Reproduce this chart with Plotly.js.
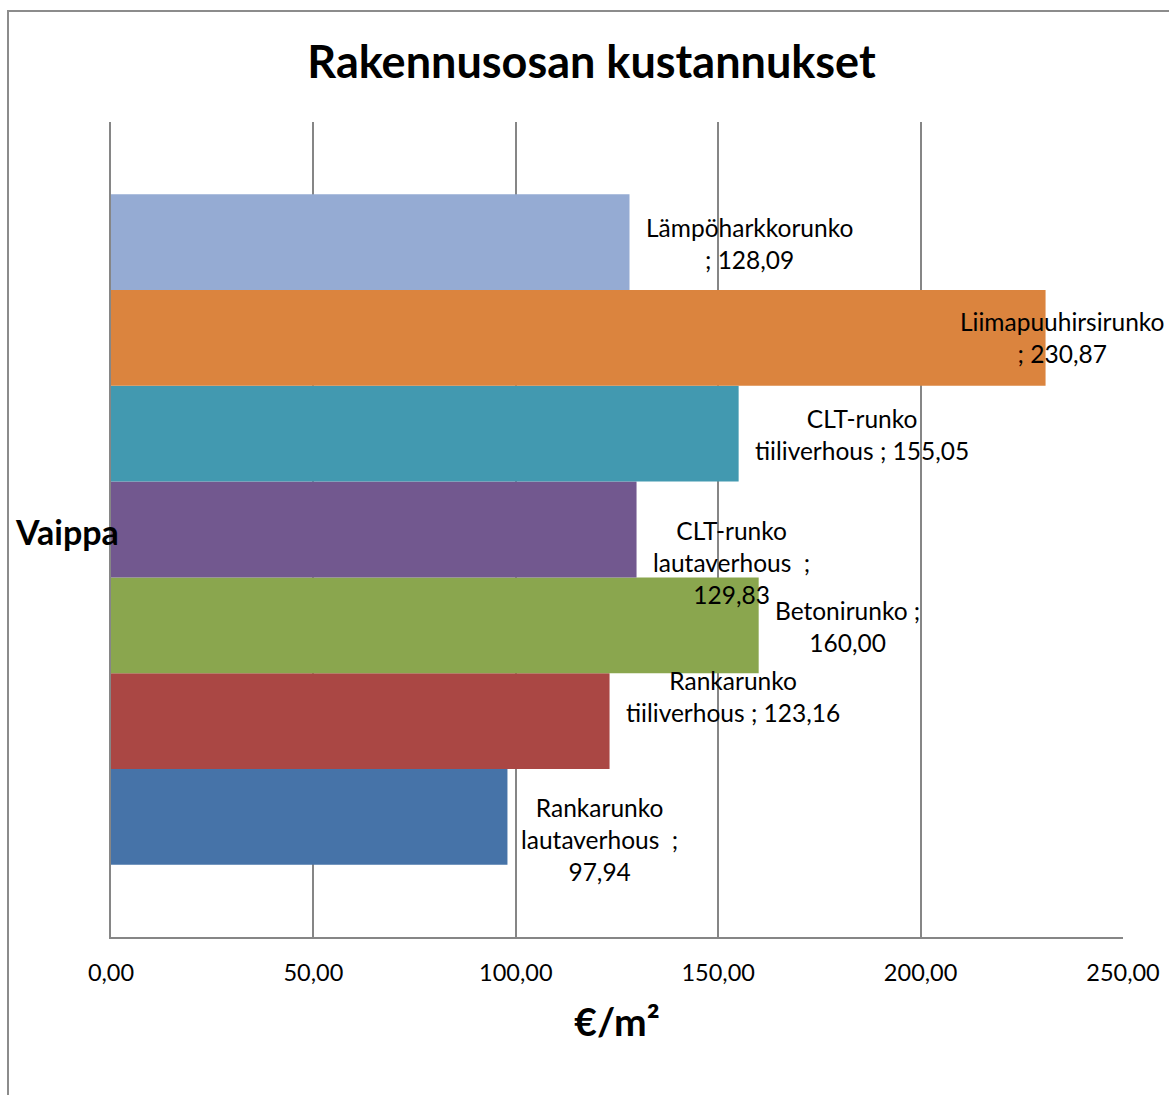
<!DOCTYPE html>
<html>
<head>
<meta charset="utf-8">
<script src="https://cdn.plot.ly/plotly-3.0.1.min.js"></script>
<style>
  html, body { margin: 0; padding: 0; background: #ffffff; }
  #wrap { position: relative; width: 1169px; height: 1095px; overflow: hidden; }
  #chart { width: 1169px; height: 1095px; }
  #frame { position: absolute; left: 7px; top: 10px; width: 1200px; height: 1200px;
           border-left: 2px solid #8c8c8c; border-top: 2px solid #8c8c8c; pointer-events: none; }
</style>
</head>
<body>
<div id="wrap">
  <div id="chart"></div>
  <div id="frame"></div>
</div>
<script>
// ---- data (bottom bar first) ----
const category = ['Vaippa'];
const seriesNames = [
  'Rankarunko lautaverhous',
  'Rankarunko tiiliverhous',
  'Betonirunko',
  'CLT-runko lautaverhous',
  'CLT-runko tiiliverhous',
  'Liimapuuhirsirunko',
  'Lämpöharkkorunko'
];
const seriesValues = [97.94, 123.16, 160.00, 129.83, 155.05, 230.87, 128.09];
// wrapped label text, as shown in the chart (value appended)
const labelPrefix = [
  'Rankarunko<br>lautaverhous  ;<br>',
  'Rankarunko<br>tiiliverhous ; ',
  'Betonirunko ;<br>',
  'CLT-runko<br>lautaverhous  ;<br>',
  'CLT-runko<br>tiiliverhous ; ',
  'Liimapuuhirsirunko<br>; ',
  'Lämpöharkkorunko<br>; '
];
const xTickVals = [0, 50, 100, 150, 200, 250];
const xTickText = ['0,00', '50,00', '100,00', '150,00', '200,00', '250,00'];

// ---- styles ----
const colors = ['#4673A8', '#AA4744', '#8AA64E', '#72588F', '#4299B0', '#DB843E', '#95ABD3'];
const labelXShift = [12, 14, 14, 14, 14, -88, 14];
const labelYShift = [-23, 25, -1, -33, -1, 0, -1];

const FONT = 'Lato, "Open Sans", sans-serif';
const bargap = 0.177;
const n = seriesValues.length;
const bw = (1 - bargap) / n;

const fmt = v => v.toFixed(2).replace('.', ',');

const traces = seriesValues.map((v, i) => ({
  type: 'bar',
  orientation: 'h',
  name: seriesNames[i],
  y: category,
  x: [v],
  marker: { color: colors[i], line: { width: 0 } },
  hoverinfo: 'name+x'
}));

const annotations = seriesValues.map((v, i) => ({
  xref: 'x', yref: 'y',
  x: v,
  y: -(1 - bargap) / 2 + (i + 0.5) * bw,
  text: labelPrefix[i] + fmt(v),
  showarrow: false,
  xanchor: 'left', yanchor: 'middle',
  align: 'center',
  xshift: labelXShift[i],
  yshift: labelYShift[i],
  font: { family: FONT, size: 24.5, color: '#000000' }
}));

annotations.push({
  xref: 'paper', yref: 'y',
  x: -0.097, y: 0,
  xanchor: 'left', yanchor: 'middle',
  text: '<b>' + category[0] + '</b>',
  showarrow: false,
  yshift: -2,
  font: { family: FONT, size: 34, color: '#000000' }
});

const layout = {
  width: 1169, height: 1095,
  margin: { l: 111, r: 46, t: 122, b: 158, pad: 0 },
  paper_bgcolor: '#ffffff', plot_bgcolor: '#ffffff',
  showlegend: false,
  barmode: 'group',
  bargap: bargap,
  bargroupgap: 0,
  separators: ', ',
  title: {
    text: '<b>Rakennusosan kustannukset</b>',
    xref: 'container', x: 0.506, xanchor: 'center',
    yref: 'container', y: 1 - 62 / 1095, yanchor: 'middle',
    font: { family: FONT, size: 45, color: '#000000' }
  },
  xaxis: {
    range: [0, 250],
    tickvals: xTickVals, ticktext: xTickText,
    showgrid: true, gridcolor: '#868686', gridwidth: 2,
    zeroline: false,
    showline: true, linecolor: '#868686', linewidth: 2,
    ticks: '', ticklabelstandoff: 14,
    tickfont: { family: FONT, size: 23.5, color: '#000000' },
    title: {
      text: '<b>€/m²</b>',
      standoff: 23,
      font: { family: FONT, size: 39, color: '#000000' }
    },
    fixedrange: true
  },
  yaxis: {
    type: 'category',
    range: [-0.5, 0.5],
    showticklabels: false,
    showgrid: false, zeroline: false,
    showline: true, linecolor: '#868686', linewidth: 2,
    ticks: '',
    fixedrange: true
  },
  annotations: annotations
};

Plotly.newPlot('chart', traces, layout, { displayModeBar: false, staticPlot: true });
</script>
</body>
</html>
